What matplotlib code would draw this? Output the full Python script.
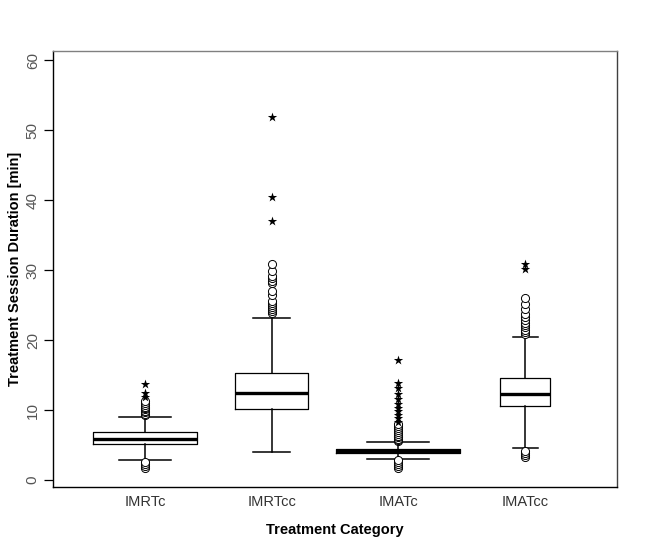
import matplotlib.pyplot as plt

plt.rcParams['font.family'] = ['Liberation Sans', 'DejaVu Sans']

categories = ["IMRTc", "IMRTcc", "IMATc", "IMATcc"]

# box statistics (minutes)
whisker_low = [2.9, 4.0, 3.0, 4.5]
q1 = [5.1, 10.1, 3.8, 10.6]
median = [5.9, 12.5, 4.1, 12.3]
q3 = [6.8, 15.3, 4.4, 14.6]
whisker_high = [9.0, 23.2, 5.4, 20.5]

# outliers (circles) and extremes (stars)
outliers = [
    [1.7, 2.0, 2.3, 2.6, 9.3, 9.5, 9.7, 9.9, 10.1, 10.3, 10.5, 10.7, 11.0, 11.3],
    [23.8, 24.1, 24.4, 24.7, 25.0, 25.3, 25.6, 26.4, 27.0, 28.1, 28.5, 28.8, 29.2, 29.9, 30.9],
    [1.7, 2.0, 2.3, 2.6, 2.9, 5.5, 5.7, 5.9, 6.1, 6.3, 6.5, 6.8, 7.1, 7.4, 7.7, 8.0],
    [3.3, 3.6, 3.9, 4.2, 20.9, 21.2, 21.5, 21.8, 22.1, 22.5, 22.9, 23.3, 23.7, 24.4, 25.2, 26.0],
]
extremes = [
    [11.8, 12.4, 13.7],
    [37.0, 40.5, 51.9],
    [8.3, 8.8, 9.3, 9.8, 10.3, 10.9, 11.6, 12.3, 13.1, 13.9, 17.1],
    [30.2, 30.8],
]

box_widths = [0.82, 0.576, 0.98, 0.395]
positions = [1, 2, 3, 4]

fig = plt.figure(figsize=(6.68, 5.39), dpi=100)
ax = fig.add_axes([0.0793, 0.0965, 0.8444, 0.8089])

stats = []
for i in range(len(categories)):
    stats.append({
        "label": categories[i],
        "whislo": whisker_low[i],
        "q1": q1[i],
        "med": median[i],
        "q3": q3[i],
        "whishi": whisker_high[i],
        "fliers": [],
    })

ax.bxp(stats, positions=positions, widths=box_widths,
       capwidths=[w / 2 for w in box_widths], showfliers=False,
       boxprops=dict(color="black", linewidth=0.9),
       whiskerprops=dict(color="black", linewidth=1.1),
       capprops=dict(color="black", linewidth=1.1),
       medianprops=dict(color="black", linewidth=2.4))

for pos, vals in zip(positions, outliers):
    ax.scatter([pos] * len(vals), vals, s=34, facecolors="white",
               edgecolors="black", linewidths=0.7, zorder=3)
for pos, vals in zip(positions, extremes):
    ax.scatter([pos] * len(vals), vals, s=50, marker="*", color="black",
               linewidths=0, zorder=3)

ax.set_xlim(1 - 0.726, 4 + 0.726)
ax.set_ylim(-1.0, 61.3)
ax.set_yticks([0, 10, 20, 30, 40, 50, 60])
ax.set_xticks(positions)
ax.set_xticklabels(categories)
ax.tick_params(axis="x", length=0, pad=6, labelsize=10.5, colors="#333333")
ax.tick_params(axis="y", length=6.5, width=0.9, pad=3, labelsize=11,
               labelcolor="#555555")
for lab in ax.get_yticklabels():
    lab.set_rotation(90)
    lab.set_va("center")

ax.spines["top"].set_color("#808080")
ax.spines["right"].set_color("#404040")
for s in ax.spines.values():
    s.set_linewidth(1.0)

ax.set_xlabel("Treatment Category", fontweight="bold", fontsize=10.5, labelpad=10)
ax.set_ylabel("Treatment Session Duration [min]", fontweight="bold", fontsize=10.5, labelpad=3)

fig.savefig("out.png", dpi=100)
